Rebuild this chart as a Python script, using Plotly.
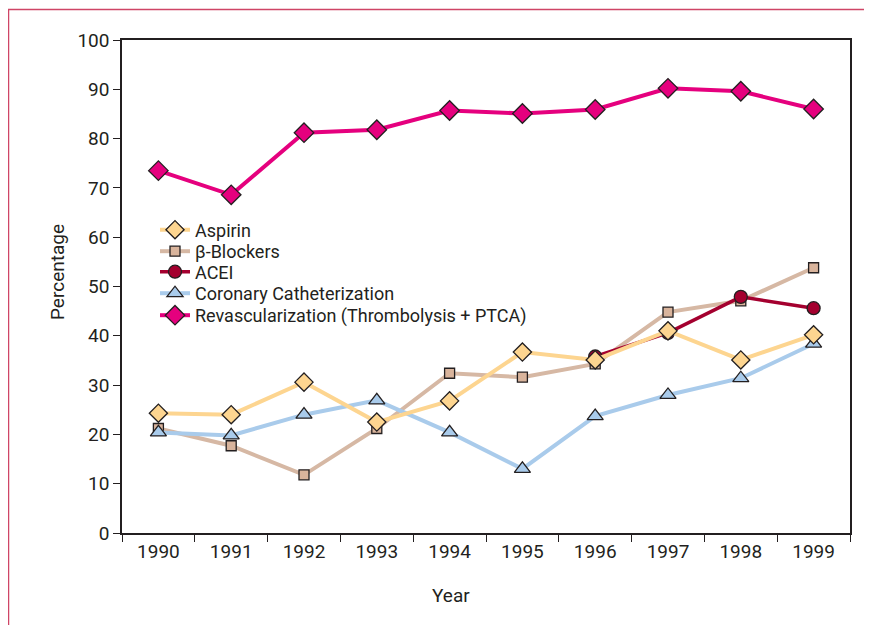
import plotly.graph_objects as go

years = ["1990", "1991", "1992", "1993", "1994", "1995", "1996", "1997", "1998", "1999"]
aspirin = [24.3, 24.0, 30.6, 22.5, 26.8, 36.7, 35.1, 41.0, 35.1, 40.2]
beta_blockers = [21.2, 17.7, 11.8, 21.2, 32.4, 31.6, 34.3, 44.8, 47.1, 53.8]
acei = [None, None, None, None, None, None, 35.8, 40.6, 47.9, 45.6]
coronary_cath = [20.4, 19.8, 24.0, 26.9, 20.4, 13.0, 23.7, 28.0, 31.4, 38.4]
revasc = [73.5, 68.6, 81.2, 81.8, 85.7, 85.1, 85.9, 90.2, 89.6, 86.0]

FONT = "Roboto, Liberation Sans, Arial, sans-serif"
TXT = "#231f20"
OUT = "#231f20"

# plot area in window pixels: x 122..850, y 40..533
PX0, PX1, PY0, PY1 = 122, 850, 40, 533


def px(x):
    return (x - PX0) / (PX1 - PX0)


def py(y):
    return (PY1 - y) / (PY1 - PY0)


series = [
    # name, data, line color, marker fill, symbol, size, line width, legend id, row y (px)
    ("β-Blockers", beta_blockers, "#d6b8a4", "#d9b49c", "square", 10, 4, "legend2", 251.5),
    ("Coronary Catheterization", coronary_cath, "#a9cbeb", "#a9cbeb", "triangle-up", 14, 4, "legend4", 293.5),
    ("ACEI", acei, "#a4002f", "#a4002f", "circle", 13, 3.5, "legend3", 272.0),
    ("Aspirin", aspirin, "#fdd590", "#fdd590", "diamond", 14, 4, "legend", 230.0),
    ("Revascularization (Thrombolysis + PTCA)", revasc, "#e5007e", "#e5007e", "diamond", 15, 4, "legend5", 315.5),
]

fig = go.Figure()
legends = {}
for name, vals, lc, mc, sym, size, lw, leg, ry in series:
    fig.add_trace(go.Scatter(
        x=years, y=vals, name=name, mode="lines+markers",
        line=dict(color=lc, width=lw),
        marker=dict(symbol=sym, size=size, color=mc, line=dict(color=OUT, width=1.3)),
        legend=leg,
    ))
    legends[leg] = dict(x=px(155), y=py(ry), xanchor="left", yanchor="middle",
                        bgcolor="rgba(0,0,0,0)", font=dict(size=18, color=TXT, family=FONT),
                        itemwidth=30, borderwidth=0)

fig.update_layout(
    width=864, height=617,
    margin=dict(l=114, r=22, t=32, b=92),
    paper_bgcolor="white", plot_bgcolor="white",
    font=dict(family=FONT, size=19, color=TXT),
    showlegend=True,
    xaxis=dict(type="category", range=[-0.5, 9.5], tickson="boundaries",
               ticks="outside", ticklen=7, tickcolor=OUT, tickwidth=1.2,
               showline=True, linecolor=OUT, linewidth=1.5, mirror=True,
               showgrid=False, zeroline=False,
               tickfont=dict(size=19, color=TXT)),
    yaxis=dict(range=[0, 100], tickvals=list(range(0, 101, 10)),
               ticks="outside", ticklen=7, tickcolor=OUT, tickwidth=1.2,
               showline=True, linecolor=OUT, linewidth=1.5, mirror=True,
               showgrid=False, zeroline=False,
               tickfont=dict(size=19, color=TXT)),
    annotations=[
        dict(text="Year", xref="paper", yref="paper", x=px(451), y=py(595),
             showarrow=False, xanchor="center", yanchor="middle",
             font=dict(size=19, color=TXT)),
        dict(text="Percentage", xref="paper", yref="paper", x=px(57), y=py(272),
             showarrow=False, xanchor="center", yanchor="middle",
             textangle=-90, font=dict(size=19, color=TXT)),
    ],
    shapes=[
        dict(type="rect", xref="paper", yref="paper",
             x0=px(8.5), x1=px(900), y0=py(660), y1=py(9.5),
             line=dict(color="#cf4566", width=1.5), fillcolor="rgba(0,0,0,0)",
             layer="below"),
    ],
)
fig.update_layout(**legends)

fig.write_html("out.html")
